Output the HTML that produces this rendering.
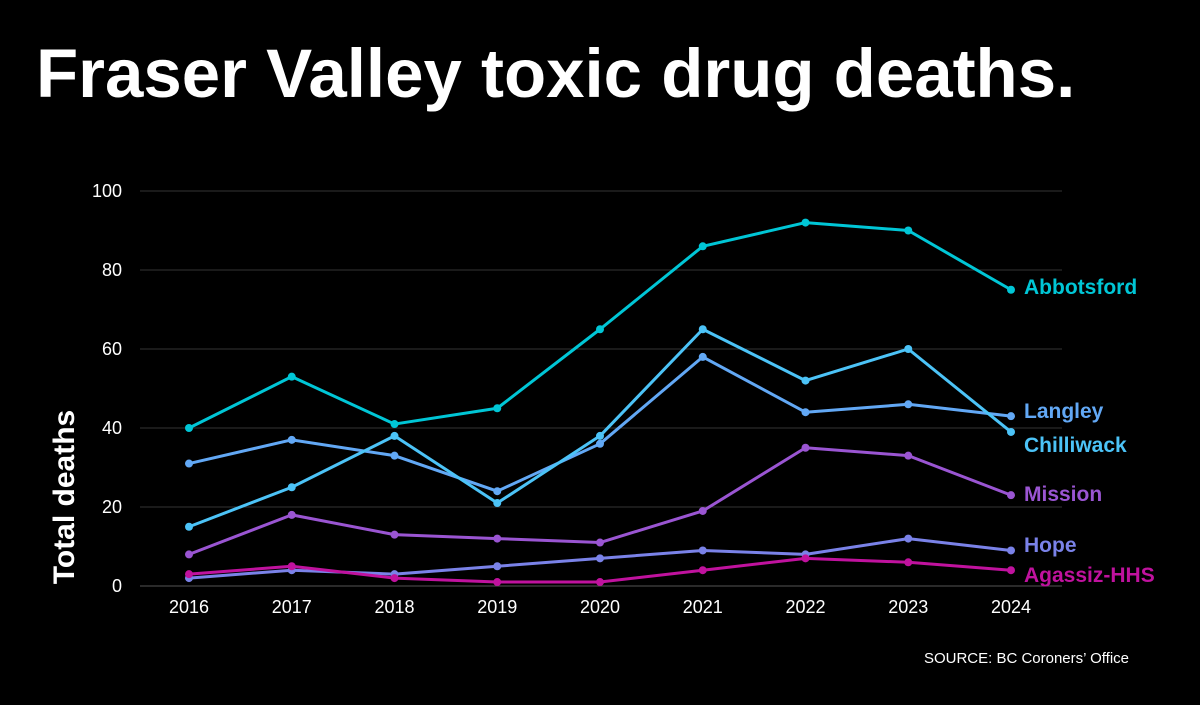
<!DOCTYPE html>
<html><head><meta charset="utf-8"><style>
body{margin:0;background:#000;width:1200px;height:700px;overflow:hidden;font-family:"Liberation Sans",sans-serif}
</style></head><body>
<svg id="c" width="1200" height="700">
<text x="36" y="97" fill="#fff" font-size="69" font-weight="bold">Fraser Valley toxic drug deaths.</text>
<text transform="translate(74,497) rotate(-90)" fill="#fff" font-size="30" font-weight="bold" text-anchor="middle">Total deaths</text>
<text x="1129" y="663" fill="#fff" font-size="15" text-anchor="end">SOURCE: BC Coroners’ Office</text>
<g id="g"></g>
</svg>
<script>
const years=["2016","2017","2018","2019","2020","2021","2022","2023","2024"];
const yTicks=[0,20,40,60,80,100];
const abbotsford=[40,53,41,45,65,86,92,90,75];
const chilliwack=[15,25,38,21,38,65,52,60,39];
const langley=[31,37,33,24,36,58,44,46,43];
const mission=[8,18,13,12,11,19,35,33,23];
const hope=[2,4,3,5,7,9,8,12,9];
const agassiz=[3,5,2,1,1,4,7,6,4];
const series=[
{name:"Abbotsford",vals:abbotsford,color:"#00c6d6",ly:287},
{name:"Langley",vals:langley,color:"#62a8f5",ly:411},
{name:"Chilliwack",vals:chilliwack,color:"#4cc3f7",ly:445},
{name:"Mission",vals:mission,color:"#9a55d2",ly:494},
{name:"Hope",vals:hope,color:"#7a82e8",ly:545},
{name:"Agassiz-HHS",vals:agassiz,color:"#c0129e",ly:575}];
const g=document.getElementById('g');const NS="http://www.w3.org/2000/svg";
const x=i=>189+i*(1011-189)/(years.length-1);
const y=v=>586-v*(586-191)/100;
function mk(t,a,p){const e=document.createElementNS(NS,t);for(const k in a)e.setAttribute(k,a[k]);(p||g).appendChild(e);return e;}
yTicks.forEach(t=>{
const l=mk('line',{x1:140,x2:1062,y1:y(t),y2:y(t),stroke:t===0?'#555':'#333','stroke-width':1});


const tx=mk('text',{x:122,y:y(t)+6,fill:'#fff','font-size':18,'text-anchor':'end'});tx.textContent=t;


});
years.forEach((yr,i)=>{
const tx=mk('text',{x:x(i),y:613,fill:'#fff','font-size':18,'text-anchor':'middle'});tx.textContent=yr;


});
series.forEach(s=>{
const p=mk('polyline',{points:s.vals.map((v,i)=>x(i)+','+y(v)).join(' '),fill:'none',stroke:s.color,'stroke-width':3,'stroke-linejoin':'round'});


s.vals.forEach((v,i)=>{const c=mk('circle',{cx:x(i),cy:y(v),r:4,fill:s.color});

});
const t=mk('text',{x:1024,y:s.ly+7,fill:s.color,'font-size':21,'font-weight':'bold'});t.textContent=s.name;


});
</script>
</body></html>
